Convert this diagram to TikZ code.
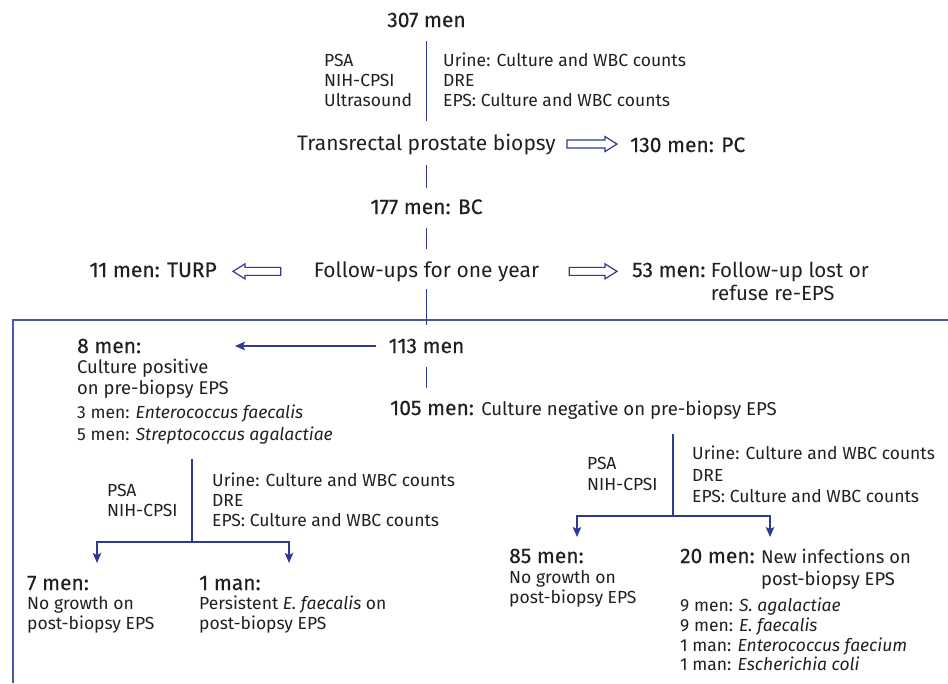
\documentclass[tikz,border=0pt]{standalone}
\usepackage{fontspec}
\setmainfont{Fira Sans}
\newfontfamily\medfont{Fira Sans}[FakeBold=0.35]
\usetikzlibrary{arrows.meta,calc}
\definecolor{tc}{HTML}{231F20}
\definecolor{lc}{HTML}{2E3A94}
\definecolor{fc}{HTML}{4A58A8}
\newcommand{\hollowR}[2]{%
  \draw[hollow] let \p1=(#1), \p2=(#2) in
  (\x1,\y1+4pt) -- (\x2-12pt,\y1+4pt) -- (\x2-12pt,\y1+7.5pt) -- (\x2,\y1)
  -- (\x2-12pt,\y1-7.5pt) -- (\x2-12pt,\y1-4pt) -- (\x1,\y1-4pt) -- cycle;}
\newcommand{\hollowL}[2]{%
  \draw[hollow] let \p1=(#1), \p2=(#2) in
  (\x1,\y1+4pt) -- (\x2+12pt,\y1+4pt) -- (\x2+12pt,\y1+7.5pt) -- (\x2,\y1)
  -- (\x2+12pt,\y1-7.5pt) -- (\x2+12pt,\y1-4pt) -- (\x1,\y1-4pt) -- cycle;}
\begin{document}
\begin{tikzpicture}[x=1pt,y=-1pt,
  every node/.style={inner sep=0pt, text=tc},
  sm/.style={font=\fontsize{17.5}{21}\selectfont, anchor=base west},
  md/.style={font=\fontsize{17.5}{21}\selectfont, anchor=base west},
  mdl/.style={font=\fontsize{18.4}{22}\selectfont, anchor=base west},
  lw/.style={font=\fontsize{20.5}{24}\selectfont, anchor=base west},
  lg/.style={font=\fontsize{21}{25}\selectfont, anchor=base},
  hd/.style={font=\medfont\fontsize{21}{25}\selectfont, anchor=base west},
  ln/.style={draw=lc, line width=1.4pt},
  arr/.style={ln, -{Stealth[length=10pt,width=8.5pt,inset=2pt]}},
  hollow/.style={draw=lc, line width=1.2pt, fill=white, line join=miter},
  frm/.style={draw=fc, line width=1.6pt}]
\useasboundingbox (0,0) rectangle (948,683);

% top
\node[hd, anchor=base] (n307) at (426.5,27) {307 men};
\node[sm] (l1a) at (324,66.5) {PSA};
\node[sm] (l1b) at (324,86.5) {NIH-CPSI};
\node[sm] (l1c) at (324,106.5) {Ultrasound};
\node[sm] (r1a) at (443,66.5) {Urine: Culture and WBC counts};
\node[sm] (r1b) at (443,86.5) {DRE};
\node[sm] (r1c) at (443,106.5) {EPS: Culture and WBC counts};
\node[lg] (tpb) at (426.5,150) {Transrectal prostate biopsy};
\node[hd] (pc) at (630,152) {130 men: PC};
\draw[ln, shorten <=21pt, shorten >=23pt] (n307.center) -- (n307.center |- tpb.center);
\coordinate (a1s) at ([xshift=11pt]tpb.east);
\coordinate (a1e) at ([xshift=-13pt]pc.west);
\hollowR{a1s}{a1e}

\node[hd, anchor=base] (bc) at (426.5,214) {177 men: BC};
\draw[ln, shorten <=21pt, shorten >=19pt] (tpb.center) -- (tpb.center |- bc.center);

\node[lg] (fu) at (426.5,277) {Follow-ups for one year};
\draw[ln, shorten <=21pt, shorten >=22pt] (bc.center) -- (bc.center |- fu.center);
\node[hd, anchor=base east] (turp) at (217,277) {11 men: TURP};
\coordinate (a2s) at ([xshift=-33pt]fu.west);
\coordinate (a2e) at ([xshift=16pt]turp.east);
\hollowL{a2s}{a2e}
\node[hd] (n53) at (632,277) {53 men:};
\node[lw] (n53a) at ($(n53.base east)+(5,0)$) {Follow-up lost or};
\node[lw] (n53b) at ($(n53a.base west)+(0,23)$) {refuse re-EPS};
\coordinate (a3s) at ([xshift=30pt]fu.east);
\coordinate (a3e) at ([xshift=-15pt]n53.west);
\hollowR{a3s}{a3e}

% frame
\draw[frm] (13,683) -- (13,320) -- (948,320);

\node[hd, anchor=base] (n113) at (426.5,353) {113 men};
\draw[ln, shorten <=18pt, shorten >=21pt] (fu.center) -- (fu.center |- n113.center);

% 8 men block
\node[hd] (n8) at (77,353) {8 men:};
\node[mdl] (n8a) at (77,373) {Culture positive};
\node[mdl] (n8b) at (77,394) {on pre-biopsy EPS};
\node[sm] (n8c) at (77,418.5) {3 men: \textit{Enterococcus faecalis}};
\node[sm] (n8d) at (77,440.5) {5 men: \textit{Streptococcus agalactiae}};
\draw[arr] ([xshift=-12pt]n113.west) -- ($(n8b.east |- n113.center)+(6,0)$);

\node[hd] (n105) at (390,415) {105 men: {\normalfont\fontsize{18.6}{22}\selectfont Culture negative on pre-biopsy EPS}};
\draw[ln, shorten <=21pt, shorten >=22pt] (n113.center) -- (n113.center |- n105.center);

% right branch
\coordinate (rb) at (673,516);
\draw[ln, shorten <=15pt] (rb |- n105.south) -- (rb);
\coordinate (t85) at (577,537);
\coordinate (t20) at (770,537);
\draw[arr] (rb) -| (t85);
\draw[arr] (rb) -| (t20);
\node[sm] (l3a) at (587,469.5) {PSA};
\node[sm] (l3b) at (587,490.5) {NIH-CPSI};
\node[sm] (r3a) at (692,459.5) {Urine: Culture and WBC counts};
\node[sm] (r3b) at (692,481.5) {DRE};
\node[sm] (r3c) at (692,502.5) {EPS: Culture and WBC counts};

\node[hd] (n85) at (509,563) {85 men:};
\node[md] (n85a) at (509,583) {No growth on};
\node[md] (n85b) at (509,603) {post-biopsy EPS};

\node[hd] (n20) at (680,563) {20 men:};
\node[mdl] (n20a) at ($(n20.base east)+(6,0)$) {New infections on};
\node[mdl] (n20b) at ($(n20a.base west)+(0,22)$) {post-biopsy EPS};
\node[sm] (n20c) at (680,611.5) {9 men: \textit{S. agalactiae}};
\node[sm] (n20d) at (680,631.5) {9 men: \textit{E. faecalis}};
\node[sm] (n20e) at (680,651) {1 man: \textit{Enterococcus faecium}};
\node[sm] (n20f) at (680,670) {1 man: \textit{Escherichia coli}};

% left branch
\coordinate (lb) at (192,542);
\draw[ln, shorten <=15pt] (lb |- n8d.south) -- (lb);
\coordinate (t7) at (97,563);
\coordinate (t1) at (289,563);
\draw[arr] (lb) -| (t7);
\draw[arr] (lb) -| (t1);
\node[sm] (l2a) at (107,496.5) {PSA};
\node[sm] (l2b) at (107,516.5) {NIH-CPSI};
\node[sm] (r2a) at (212,486.5) {Urine: Culture and WBC counts};
\node[sm] (r2b) at (212,506.5) {DRE};
\node[sm] (r2c) at (212,526.5) {EPS: Culture and WBC counts};

\node[hd] (n7) at (27,590) {7 men:};
\node[md] (n7a) at (27,609) {No growth on};
\node[md] (n7b) at (27,629) {post-biopsy EPS};

\node[hd] (n1) at (199,590) {1 man:};
\node[md] (n1a) at (199,609) {Persistent \textit{E. faecalis} on};
\node[md] (n1b) at (199,629) {post-biopsy EPS};
\end{tikzpicture}
\end{document}
